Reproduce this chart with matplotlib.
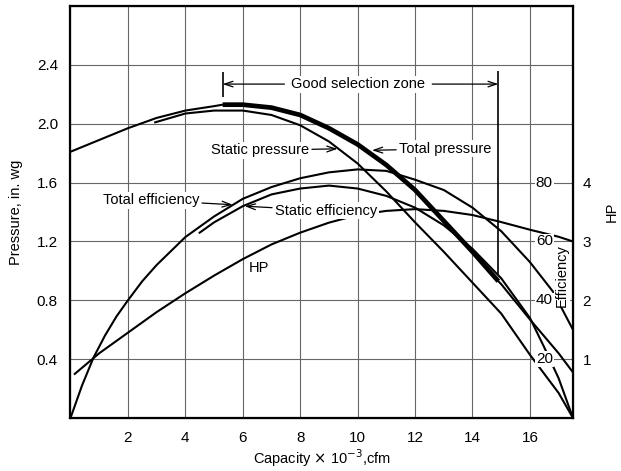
# Fan performance curves: pressure, efficiency and HP vs capacity

import numpy as np
import matplotlib
matplotlib.use('Agg')
import matplotlib.pyplot as plt

plt.rcParams['font.family'] = ['Liberation Sans', 'DejaVu Sans']

# data (capacity in 1000 cfm)
tp_x = [0, 1, 2, 3, 4, 5, 5.3, 6, 7, 8, 9, 10, 11, 12, 13, 14, 14.9, 15, 16, 17, 17.5]
tp_y = [1.81, 1.89, 1.97, 2.04, 2.09, 2.12, 2.13, 2.13, 2.11, 2.06, 1.97, 1.86, 1.72,
        1.55, 1.34, 1.13, 0.93, 0.91, 0.67, 0.44, 0.31]          # total pressure, in. wg

sp_x = [2.95, 4, 5, 6, 7, 8, 9, 10, 11, 12, 13, 14, 15, 16, 17, 17.5]
sp_y = [2.01, 2.07, 2.09, 2.09, 2.06, 1.99, 1.88, 1.73, 1.54, 1.33, 1.13, 0.92, 0.71,
        0.43, 0.17, 0.0]                                          # static pressure, in. wg

te_x = [0, 0.4, 0.8, 1.2, 1.6, 2, 2.5, 3, 4, 5, 6, 7, 8, 9, 10, 11, 12, 13, 14, 15, 16,
        16.8, 17.5]
te_y = [0, 11, 20.5, 28, 34.5, 40, 46.5, 52, 61.5, 68.5, 74.5, 78.5, 81.5, 83.5, 84.5,
        84, 81, 77.5, 71.5, 63.5, 53, 43, 30]                     # total efficiency, %

se_x = [4.5, 5, 6, 7, 8, 9, 10, 11, 12, 13, 14, 15, 16, 16.5, 17, 17.5]
se_y = [63, 66.5, 72, 76, 78, 79, 78, 75.5, 71.5, 65.5, 57.5, 47.5, 34, 24, 13.5, 0]  # static eff, %

hp_x = [0.15, 1, 2, 3, 4, 5, 6, 7, 8, 9, 10, 11, 12, 13, 14, 15, 16, 17, 17.5]
hp_y = [0.75, 1.1, 1.45, 1.8, 2.12, 2.42, 2.7, 2.95, 3.15, 3.32, 3.45, 3.52, 3.55, 3.52,
        3.45, 3.33, 3.2, 3.08, 3.0]                               # HP

zone = [5.3, 14.9]   # good selection zone

x_ticks = [2, 4, 6, 8, 10, 12, 14, 16]
p_ticks = [0.4, 0.8, 1.2, 1.6, 2.0, 2.4]
eff_ticks = [20, 40, 60, 80]
hp_ticks = [1, 2, 3, 4]

fig = plt.figure(figsize=(6.21, 4.71), dpi=100)
ax = fig.add_axes([0.1135, 0.1125, 0.8092, 0.8745])
ax.set_xlim(0, 17.5)
ax.set_ylim(0, 2.8)
ax.set_xticks(x_ticks)
ax.set_yticks(p_ticks)
ax.set_yticklabels(['%.1f' % v for v in p_ticks])
ax.tick_params(length=0, labelsize=11, pad=9)
ax.grid(True, color='#666666', lw=0.8)
for s in ax.spines.values():
    s.set_linewidth(1.6)
ax.set_xlabel(r'Capacity $\times$ 10$^{-3}$,cfm', fontsize=10.5, labelpad=2)
ax.set_ylabel('Pressure, in. wg', fontsize=10.5, labelpad=10)

lw = 1.5
tp_x = np.array(tp_x)
tp_y = np.array(tp_y)
ax.plot(tp_x, tp_y, color='k', lw=lw)
m = (tp_x >= zone[0]) & (tp_x <= zone[1])
ax.plot(tp_x[m], tp_y[m], color='k', lw=3.4, solid_capstyle='butt')
ax.plot(sp_x, sp_y, color='k', lw=lw)

box = dict(fc='white', ec='none', pad=1)
arr = dict(arrowstyle='->, head_length=0.6, head_width=0.2', lw=0.9, color='k',
           shrinkA=1, shrinkB=0)

# good selection zone
ax.vlines(zone[0], 2.18, 2.35, color='k', lw=1.2)
ax.vlines(zone[1], 0.98, 2.36, color='k', lw=1.2)
ax.text(10.0, 2.27, 'Good selection zone', ha='center', va='center', fontsize=10.5,
        bbox=box, zorder=5)
ax.annotate('', xy=(zone[0], 2.27), xytext=(7.5, 2.27), arrowprops=arr)
ax.annotate('', xy=(zone[1], 2.27), xytext=(12.55, 2.27), arrowprops=arr)

ax.annotate('Static pressure', xy=(9.3, 1.83), xytext=(6.6, 1.82), ha='center',
            va='center', fontsize=10.5, bbox=box, arrowprops=arr, zorder=5)
ax.annotate('Total pressure', xy=(10.5, 1.82), xytext=(13.05, 1.83), ha='center',
            va='center', fontsize=10.5, bbox=box, arrowprops=arr, zorder=5)

# HP axis on the right
ax_hp = ax.twinx()
ax_hp.set_ylim(0, 7)
ax_hp.set_yticks(hp_ticks)
ax_hp.tick_params(length=0, labelsize=11, pad=7)
ax_hp.set_ylabel('HP', fontsize=10.5, labelpad=10)
ax_hp.plot(hp_x, hp_y, color='k', lw=lw)
ax_hp.text(6.55, 2.55, 'HP', ha='center', va='center', fontsize=10.5)

# efficiency, scale written inside the plot
ax_eff = ax.twinx()
ax_eff.set_ylim(0, 140)
ax_eff.set_yticks([])
ax_eff.axis('off')
ax_eff.plot(te_x, te_y, color='k', lw=lw)
ax_eff.plot(se_x, se_y, color='k', lw=lw)
for v in eff_ticks:
    ax_eff.text(16.5, v, str(v), ha='center', va='center', fontsize=11,
                bbox=dict(fc='white', ec='none', pad=0.5), zorder=5)
ax_eff.text(17.12, 48.5, 'Efficiency', rotation=90, ha='center', va='center',
            fontsize=10.5, bbox=dict(fc='white', ec='none', pad=0.5), zorder=5)
ax_eff.annotate('Total efficiency', xy=(5.65, 72.5), xytext=(2.8, 74), ha='center',
                va='center', fontsize=10.5, bbox=box, arrowprops=arr, zorder=5)
ax_eff.annotate('Static efficiency', xy=(6.07, 72), xytext=(8.9, 70.5), ha='center',
                va='center', fontsize=10.5, bbox=box, arrowprops=arr, zorder=5)

fig.savefig('out.png', dpi=100)
